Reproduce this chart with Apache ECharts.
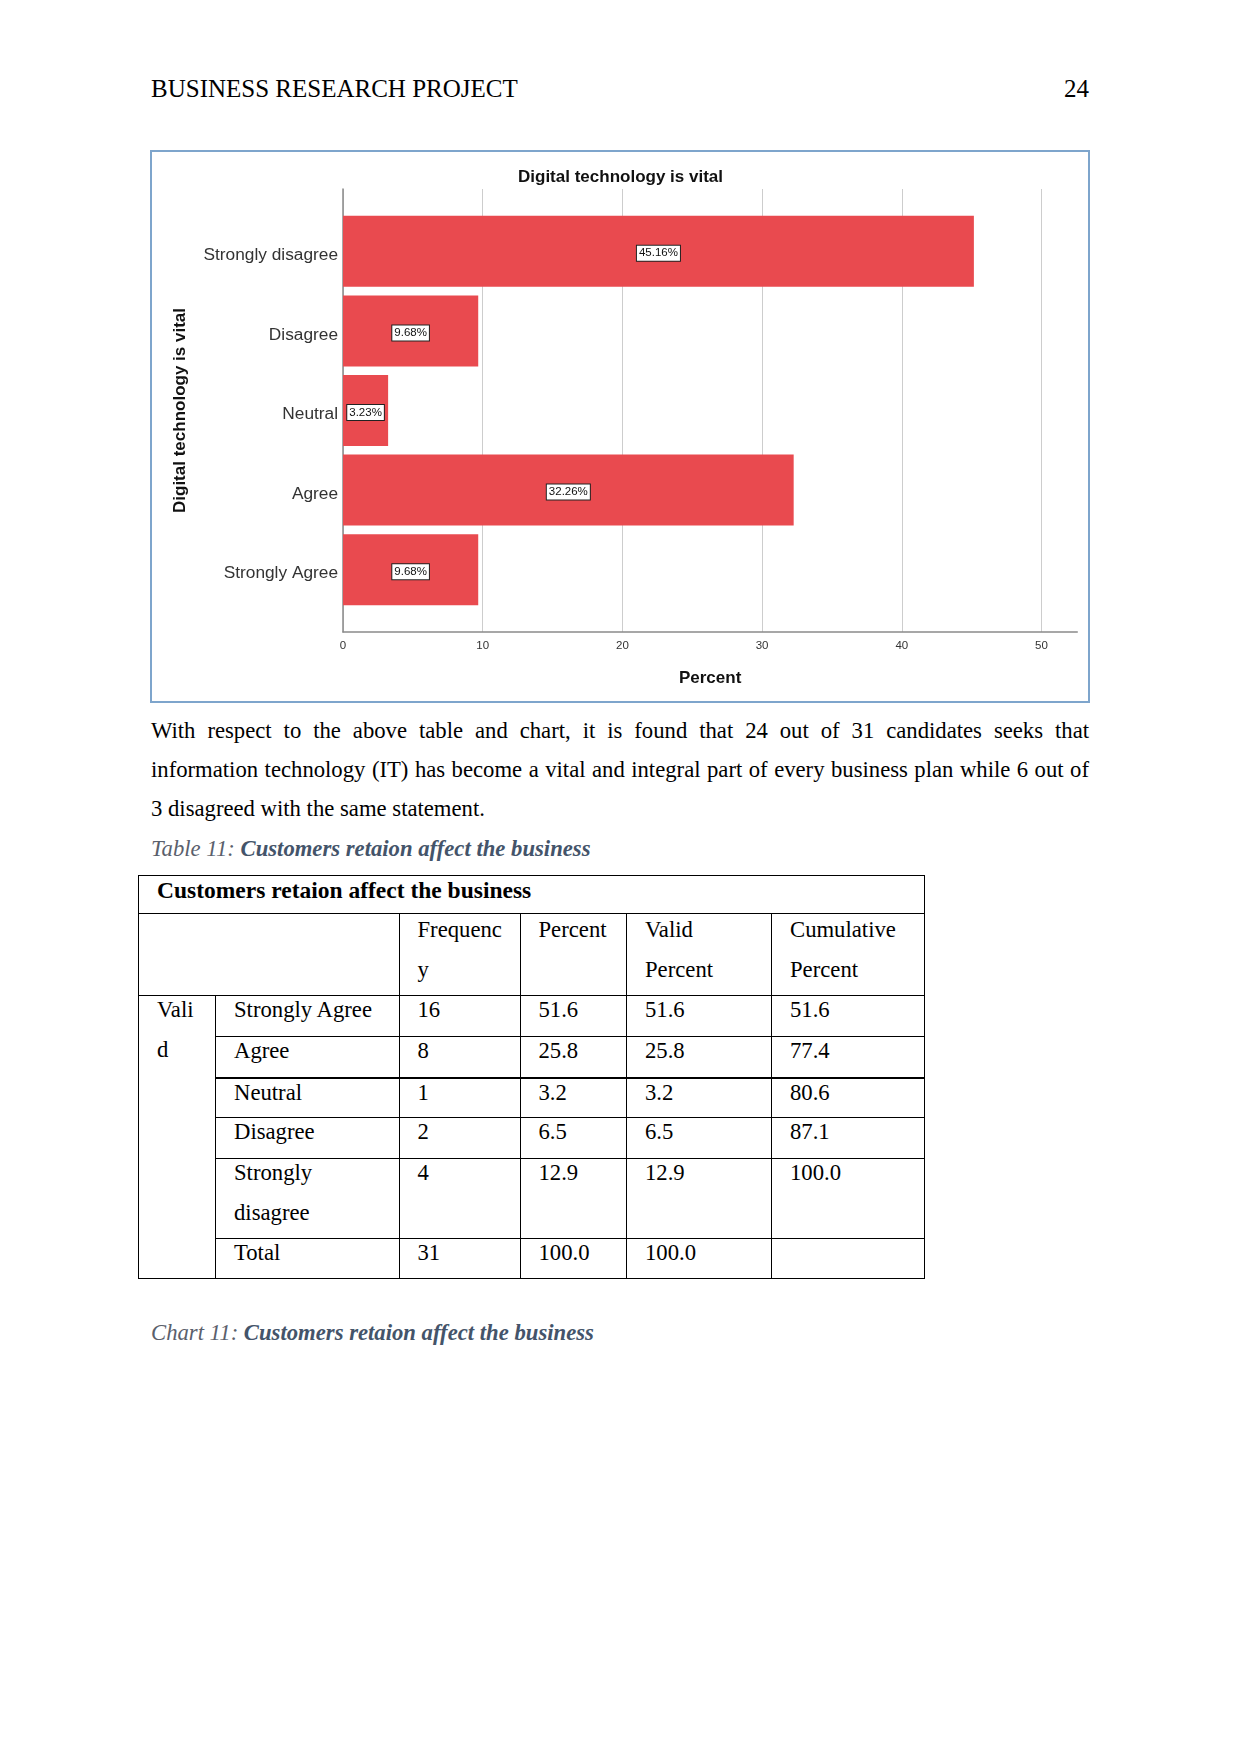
<!DOCTYPE html>
<html>
<head>
<meta charset="utf-8">
<script src="https://cdn.jsdelivr.net/npm/echarts@6/dist/echarts.min.js"></script>
<style>
  html, body { margin:0; padding:0; background:#fff; }
  body { width:1241px; height:1754px; position:relative; font-family:"Liberation Serif","Times New Roman",serif; color:#000; }
  .hdr { position:absolute; top:73.6px; font-size:25px; line-height:30px; white-space:nowrap; }
  #frame { position:absolute; left:150px; top:150px; width:940px; height:553px; box-sizing:border-box; border:2px solid #7ea5cc; z-index:1; }
  #chart { position:absolute; left:0; top:0; width:1241px; height:720px; z-index:2; }
  #para { position:absolute; left:151px; top:711px; width:938px; font-size:22.7px; line-height:39.2px; }
  #para .j { text-align:justify; text-align-last:justify; white-space:nowrap; }
  .cap1 { font-style:italic; color:#5a606c; }
  .cap2 { font-style:italic; font-weight:bold; color:#44546a; }
  #tbl { position:absolute; left:138px; top:875px; border-collapse:collapse; table-layout:fixed; width:786px; font-size:22.7px; }
  #tbl td { border:1px solid #000; padding:0 0 0 18px; vertical-align:top; overflow:hidden; }
  #tbl td div { line-height:40px; margin-top:-6px; white-space:nowrap; }
  #tbl tr.title td div { line-height:38px; margin-top:-5.5px; font-weight:bold; font-size:23.5px; }
  #tbl tr.head td div { margin-top:-4px; }
  #tbl tr.thick td { border-top:2px solid #000; }
  #cap11 { position:absolute; left:151px; top:1312.5px; font-size:22.7px; line-height:39.2px; white-space:nowrap; }
</style>
</head>
<body>
<div class="hdr" style="left:151px;">BUSINESS RESEARCH PROJECT</div>
<div class="hdr" style="right:152px; text-align:right;">24</div>

<div id="frame"></div>
<div id="chart"></div>

<div id="para">
  <div class="j">With respect to the above table and chart, it is found that 24 out of 31 candidates seeks that</div>
  <div class="j">information technology (IT) has become a vital and integral part of every business plan while 6 out of</div>
  <div>3 disagreed with the same statement.</div>
  <div style="white-space:nowrap;"><span class="cap1">Table 11: </span><span class="cap2">Customers retaion affect the business</span></div>
</div>

<table id="tbl">
  <colgroup>
    <col style="width:77px"><col style="width:183.5px"><col style="width:121px"><col style="width:106.5px"><col style="width:145px"><col style="width:153px">
  </colgroup>
  <tr class="title" style="height:38px"><td colspan="6"><div>Customers retaion affect the business</div></td></tr>
  <tr class="head" style="height:82px"><td colspan="2"><div></div></td><td><div>Frequenc<br>y</div></td><td><div>Percent</div></td><td><div>Valid<br>Percent</div></td><td><div>Cumulative<br>Percent</div></td></tr>
  <tr style="height:41px"><td rowspan="6"><div>Vali<br>d</div></td><td><div>Strongly Agree</div></td><td><div>16</div></td><td><div>51.6</div></td><td><div>51.6</div></td><td><div>51.6</div></td></tr>
  <tr style="height:41px"><td><div>Agree</div></td><td><div>8</div></td><td><div>25.8</div></td><td><div>25.8</div></td><td><div>77.4</div></td></tr>
  <tr class="thick" style="height:40px"><td><div>Neutral</div></td><td><div>1</div></td><td><div>3.2</div></td><td><div>3.2</div></td><td><div>80.6</div></td></tr>
  <tr style="height:41px"><td><div>Disagree</div></td><td><div>2</div></td><td><div>6.5</div></td><td><div>6.5</div></td><td><div>87.1</div></td></tr>
  <tr style="height:80px"><td><div>Strongly<br>disagree</div></td><td><div>4</div></td><td><div>12.9</div></td><td><div>12.9</div></td><td><div>100.0</div></td></tr>
  <tr style="height:40px"><td><div>Total</div></td><td><div>31</div></td><td><div>100.0</div></td><td><div>100.0</div></td><td><div></div></td></tr>
</table>

<div id="cap11"><span class="cap1">Chart 11: </span><span class="cap2">Customers retaion affect the business</span></div>

<script>
// ---- data ----
const categories = ['Strongly disagree', 'Disagree', 'Neutral', 'Agree', 'Strongly Agree'];
const percents = [45.16, 9.68, 3.23, 32.26, 9.68];
const xTicks = [0, 10, 20, 30, 40, 50];
const chartTitle = 'Digital technology is vital';
const xName = 'Percent';
const yName = 'Digital technology is vital';

// ---- chart ----
const SANS = '"Liberation Sans", Arial, Helvetica, sans-serif';
const chart = echarts.init(document.getElementById('chart'), null, { renderer: 'canvas' });
const tickMax = xTicks[xTicks.length - 1];
const tickStep = xTicks[1] - xTicks[0];
const plotW = 698.5;
const axisExt = 52.56; // baseline extends a little past the last tick

chart.setOption({
  animation: false,
  textStyle: { fontFamily: SANS },
  title: {
    text: chartTitle, left: 'center', top: 168.5, padding: 0,
    textStyle: { fontFamily: SANS, fontSize: 17, fontWeight: 'bold', color: '#111' }
  },
  grid: [
    { left: 343, top: 189, width: plotW, height: 443 },
    { left: 343, top: 189, width: plotW * axisExt / tickMax, height: 443 },
    { left: 343, top: 211.5, width: plotW, height: 398 }
  ],
  xAxis: [
    { gridIndex: 0, type: 'value', min: xTicks[0], max: tickMax, interval: tickStep,
      axisLine: { show: false }, axisTick: { show: false },
      splitLine: { show: true, lineStyle: { color: '#cdcdcd', width: 1 } },
      axisLabel: { fontFamily: SANS, fontSize: 11.5, color: '#333', margin: 8 } },
    { gridIndex: 1, type: 'value', min: 0, max: axisExt,
      axisLine: { show: true, onZero: false, lineStyle: { color: '#8a8a8a', width: 1.5 } },
      axisTick: { show: false }, axisLabel: { show: false }, splitLine: { show: false },
      name: xName, nameLocation: 'middle', nameGap: 38,
      nameTextStyle: { fontFamily: SANS, fontSize: 17, fontWeight: 'bold', color: '#111' } },
    { gridIndex: 2, type: 'value', min: xTicks[0], max: tickMax, show: false }
  ],
  yAxis: [
    { gridIndex: 0, type: 'value', min: 0, max: 1,
      axisLine: { show: true, onZero: false, lineStyle: { color: '#8a8a8a', width: 1.5 } },
      axisTick: { show: false }, axisLabel: { show: false }, splitLine: { show: false } },
    { gridIndex: 1, type: 'value', min: 0, max: 1, show: false },
    { gridIndex: 2, type: 'category', data: categories, inverse: true,
      axisLine: { show: false }, axisTick: { show: false }, splitLine: { show: false },
      axisLabel: { fontFamily: SANS, fontSize: 17.3, color: '#333', margin: 5,
                   verticalAlign: 'top', lineHeight: 8 },
      name: yName, nameLocation: 'middle', nameRotate: 90, nameGap: 154,
      nameTextStyle: { fontFamily: SANS, fontSize: 17, fontWeight: 'bold', color: '#111' } }
  ],
  series: [{
    type: 'bar', xAxisIndex: 2, yAxisIndex: 2,
    data: percents, barCategoryGap: '10.8%',
    itemStyle: { color: '#e94a4f' },
    label: {
      show: true, position: 'inside', offset: [0, 2],
      formatter: p => p.value.toFixed(2) + '%',
      fontFamily: SANS, fontSize: 11.5, color: '#111',
      backgroundColor: '#fff', borderColor: '#222', borderWidth: 1, padding: [2, 2, 1, 2]
    }
  }]
});
</script>
</body>
</html>
